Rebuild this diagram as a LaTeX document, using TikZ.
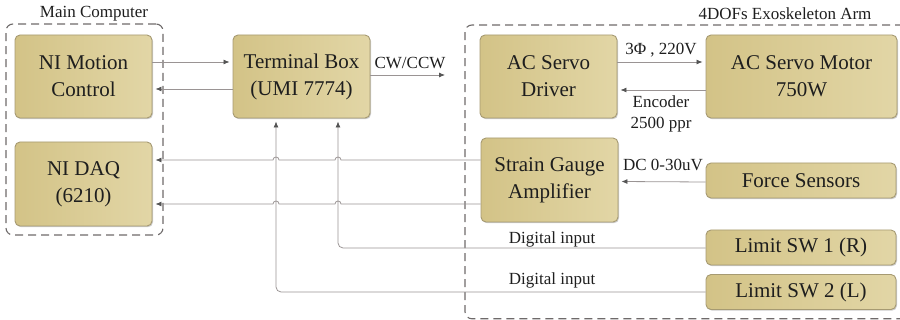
\documentclass[tikz,border=0pt]{standalone}
\usepackage{fontspec}
\setmainfont{Liberation Serif}
\usetikzlibrary{arrows.meta,shadows}
\definecolor{boxdark}{HTML}{D3C387}
\definecolor{boxlight}{HTML}{E2D6A6}
\definecolor{boxline}{HTML}{A69A72}
\definecolor{wire}{HTML}{9A9494}
\definecolor{tipc}{HTML}{555555}
\definecolor{ink}{HTML}{1E1E1E}
\definecolor{grpline}{HTML}{6E6A6A}
\begin{document}
\begin{tikzpicture}[x=1pt,y=-1pt,
  blk/.style={draw=boxline, line width=0.9pt, rounded corners=5pt,
    left color=boxdark, right color=boxlight, text=ink,
    font=\fontsize{21}{27}\selectfont, align=center, inner sep=0pt,
    drop shadow={shadow xshift=1pt, shadow yshift=-1.2pt, opacity=0.2, fill=black}},
  grp/.style={draw=grpline, line width=1.1pt, dash pattern=on 8pt off 5pt,
    rounded corners=7pt, inner sep=0pt},
  lbl/.style={text=ink, font=\fontsize{17}{21}\selectfont, align=center, inner sep=0pt},
  conn/.style={draw=wire, line width=0.8pt},
  arr/.style={conn, -{Latex[length=6pt,width=5pt,color=tipc]}, shorten >=3pt},
]
\useasboundingbox (0,0) rectangle (900,320);

% group frames
\node[grp, minimum width=157pt, minimum height=211pt] (maingrp) at (84.5,129.5) {};
\node[grp, minimum width=445pt, minimum height=293.8pt] (exogrp) at (687.5,171.9) {};
\node[lbl] (mainlbl) at (94,14) {Main Computer};
\node[lbl] (exolbl) at (785,14) {4DOFs Exoskeleton Arm};

% blocks
\node[blk, minimum width=137pt, minimum height=83pt] (nimc) at (83.5,76.5) {NI Motion\\Control};
\node[blk, minimum width=137pt, minimum height=84pt] (daq) at (83.5,184) {NI DAQ\\(6210)};
\node[blk, minimum width=137pt, minimum height=83pt] (tb) at (301.5,76.5) {Terminal Box\\(UMI 7774)};
\node[blk, minimum width=137pt, minimum height=83pt] (drv) at (548.5,76.5) {AC Servo\\Driver};
\node[blk, minimum width=191pt, minimum height=83pt] (mot) at (801.5,76.5) {AC Servo Motor\\750W};
\node[blk, minimum width=137pt, minimum height=84pt] (sga) at (549.5,180) {Strain Gauge\\Amplifier};
\node[blk, minimum width=190pt, minimum height=35pt] (force) at (801,180.5) {Force Sensors};
\node[blk, minimum width=190pt, minimum height=35pt] (lim1) at (801,247.5) {Limit SW 1 (R)};
\node[blk, minimum width=190pt, minimum height=35pt] (lim2) at (801,292) {Limit SW 2 (L)};

% motion controller <-> terminal box
\draw[arr] ([yshift=14.5pt]nimc.east) -- ([yshift=14.5pt]tb.west);
\draw[arr] ([yshift=-12.5pt]tb.west) -- ([yshift=-12.5pt]nimc.east);

% pulse output
\coordinate (cwend) at (445,75);
\draw[arr, shorten >=0pt] ([yshift=1.5pt]tb.east) -- (cwend);
\node[lbl] (cwlbl) at (410,63) {CW/CCW};

% driver <-> motor
\draw[arr] ([yshift=14.5pt]drv.east) -- ([yshift=14.5pt]mot.west);
\node[lbl] (pwrlbl) at (661,50) {3Φ , 220V};
\draw[arr] ([yshift=-13.5pt]mot.west) -- ([yshift=-13.5pt]drv.east);
\node[lbl] (enclbl) at (661,114) {Encoder\\2500 ppr};

% force sensors -> amplifier
\draw[arr] ([yshift=-1.5pt]force.west) -- ([yshift=-1.5pt]sga.east);
\node[lbl] (dclbl) at (663,165) {DC 0-30uV};

% limit switches -> terminal box
\draw[arr, rounded corners=5pt] ([yshift=-0.5pt]lim1.west) -| ([xshift=36.5pt]tb.south);
\draw[arr, rounded corners=5pt] (lim2.west) -| ([xshift=-25.5pt]tb.south);
\node[lbl] (dilbl1) at (552,239) {Digital input};
\node[lbl] (dilbl2) at (552,280) {Digital input};

% amplifier -> DAQ, hopping over the limit-switch lines
\draw[arr] ([yshift=20pt]sga.west) -- (341,160) arc[start angle=0,end angle=180,radius=3pt]
  -- (279,160) arc[start angle=0,end angle=180,radius=3pt] -- ([yshift=24pt]daq.east);
\draw[arr] ([yshift=-24pt]sga.west) -- (341,204) arc[start angle=0,end angle=180,radius=3pt]
  -- (279,204) arc[start angle=0,end angle=180,radius=3pt] -- ([yshift=-20pt]daq.east);
\end{tikzpicture}
\end{document}
